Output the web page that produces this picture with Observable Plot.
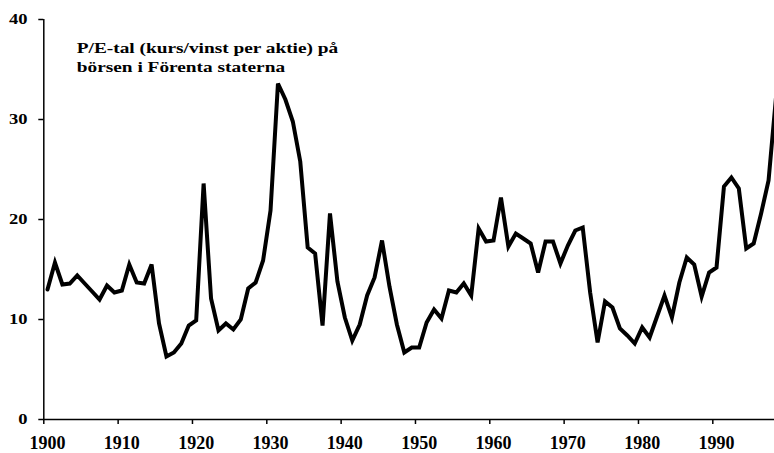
<!DOCTYPE html>
<html>
<head>
<meta charset="utf-8">
<script src="https://cdn.jsdelivr.net/npm/d3@7"></script>
<script src="https://cdn.jsdelivr.net/npm/@observablehq/plot@0.6"></script>
<style>
  html, body { margin: 0; padding: 0; background: #fff; }
  #chart svg { overflow: hidden; display: block; }
</style>
</head>
<body>
<div id="chart"></div>
<script>
const startYear = 1900;
const peValues = [
  13.0, 15.7, 13.5, 13.6, 14.4, 13.6, 12.8, 12.0, 13.4, 12.7,
  12.9, 15.5, 13.7, 13.6, 15.5, 9.6, 6.3, 6.7, 7.6, 9.4,
  9.9, 23.6, 12.1, 8.9, 9.6, 9.0, 10.0, 13.1, 13.7, 15.9,
  20.9, 33.6, 32.0, 29.8, 25.8, 17.2, 16.6, 9.4, 20.6, 13.8,
  10.2, 7.9, 9.5, 12.4, 14.2, 17.9, 13.3, 9.5, 6.7, 7.2,
  7.2, 9.7, 11.0, 10.1, 12.9, 12.7, 13.6, 12.4, 19.1, 17.8,
  17.9, 22.2, 17.3, 18.6, 18.1, 17.6, 14.7, 17.8, 17.8, 15.6,
  17.4, 18.9, 19.2, 12.7, 7.7, 11.8, 11.2, 9.1, 8.4, 7.6,
  9.2, 8.2, 10.3, 12.4, 10.2, 13.7, 16.2, 15.5, 12.3, 14.7,
  15.2, 23.3, 24.2, 23.1, 17.1, 17.6, 20.6, 23.9, 32.2
];
const xTickYears = [1900, 1910, 1920, 1930, 1940, 1950, 1960, 1970, 1980, 1990];
const yTicks = [0, 10, 20, 30, 40];
const titleLines = ["P/E-tal (kurs/vinst per aktie) på", "börsen i Förenta staterna"];

const data = peValues.map((v, i) => ({year: startYear + i, pe: v}));
const xDomain = [startYear - 0.5, 1997.8];
const font = "Liberation Serif, Times New Roman, serif";

const chart = Plot.plot({
  width: 774,
  height: 453,
  marginLeft: 43.3,
  marginRight: 0,
  marginTop: 19,
  marginBottom: 34,
  style: {fontFamily: font, fontWeight: "bold", fontSize: "18px", background: "#fff", color: "#000"},
  x: {domain: xDomain, axis: null},
  y: {domain: [0, 40], axis: null},
  marks: [
    Plot.axisY({ticks: yTicks, tickSize: 5, tickFormat: () => "", strokeWidth: 1.5, label: null}),
    Plot.axisY({ticks: yTicks, tickSize: 0, tickPadding: 16.3, fontSize: 13.6, fontWeight: "bold", fontFamily: font, label: null}),
    Plot.axisX({ticks: xTickYears.map(d => d - 0.5), tickSize: 5, tickFormat: () => "", strokeWidth: 1.5, label: null}),
    Plot.axisX({ticks: xTickYears, tickSize: 0, tickPadding: 17, tickFormat: d => String(d), fontSize: 18, fontWeight: "bold", fontFamily: font, label: null}),
    Plot.ruleY([0], {stroke: "#000", strokeWidth: 1.5}),
    Plot.ruleX([xDomain[0]], {stroke: "#000", strokeWidth: 1.5}),
    Plot.line(data, {x: "year", y: "pe", stroke: "#000", strokeWidth: 4, strokeLinejoin: "miter", strokeMiterlimit: 4}),
    Plot.text([titleLines.join("\n")], {
      frameAnchor: "top-left", textAnchor: "start", lineAnchor: "top",
      dx: 33, dy: 20.4, lineHeight: 1.357,
      fontSize: 14, fontWeight: "bold", fontFamily: font, fill: "#000"
    })
  ]
});
document.getElementById("chart").appendChild(chart);

// The reference's title and y-axis labels are set in a horizontally widened type.
function widen(g, s, side) {
  if (!g) return;
  const w = document.createElementNS("http://www.w3.org/2000/svg", "g");
  g.parentNode.insertBefore(w, g);
  w.appendChild(g);
  const b = w.getBBox();
  const ax = side === "right" ? b.x + b.width : b.x;
  w.setAttribute("transform", `translate(${ax},0) scale(${s},1) translate(${-ax},0)`);
}
const texts = Array.from(chart.querySelectorAll("text"));
const yLab = texts.find(t => t.textContent === "40");
const ttl = texts.find(t => t.textContent.startsWith("P/E"));
widen(yLab && yLab.parentNode, 1.36, "right");
widen(ttl && ttl.parentNode, 1.38, "left");
</script>
</body>
</html>
